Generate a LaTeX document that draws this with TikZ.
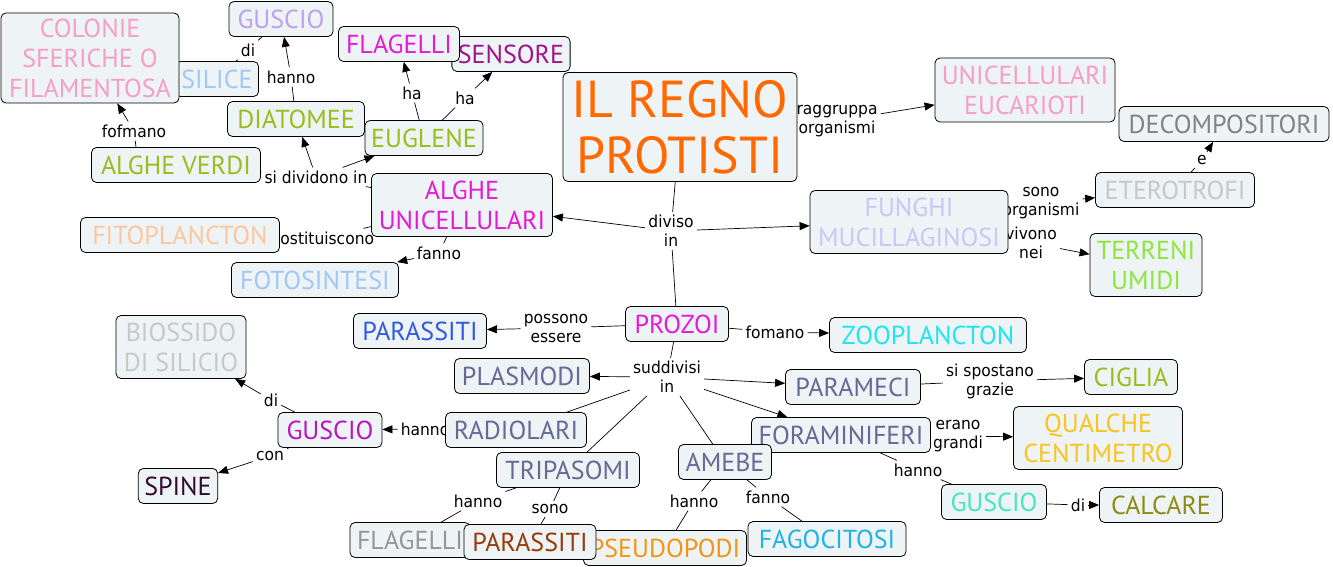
\documentclass[tikz,border=0pt]{standalone}
\usepackage{fontspec}
\setmainfont{PT Sans}
\newfontfamily\linkfont[FakeStretch=0.94]{DejaVu Sans}
\usetikzlibrary{arrows.meta}
\pgfdeclarelayer{back}
\pgfsetlayers{back,main}

\definecolor{boxfill}{RGB}{238,243,245}
\definecolor{rosa}{RGB}{245,160,195}
\definecolor{azzurro}{RGB}{160,200,245}
\definecolor{lilla}{RGB}{190,160,240}
\definecolor{magenta}{RGB}{230,25,215}
\definecolor{viola}{RGB}{160,20,140}
\definecolor{verde}{RGB}{150,190,30}
\definecolor{arancio}{RGB}{255,105,0}
\definecolor{grigio}{RGB}{130,130,130}
\definecolor{grigiochiaro}{RGB}{200,200,200}
\definecolor{glicine}{RGB}{200,200,245}
\definecolor{verdechiaro}{RGB}{140,230,60}
\definecolor{pesca}{RGB}{250,200,160}
\definecolor{blu}{RGB}{50,90,220}
\definecolor{ciano}{RGB}{30,230,240}
\definecolor{ardesia}{RGB}{100,105,150}
\definecolor{porpora}{RGB}{190,20,190}
\definecolor{oro}{RGB}{250,195,30}
\definecolor{prugna}{RGB}{50,10,50}
\definecolor{acqua}{RGB}{70,230,190}
\definecolor{oliva}{RGB}{140,140,20}
\definecolor{grigiomedio}{RGB}{150,150,150}
\definecolor{marrone}{RGB}{150,60,10}
\definecolor{arancione}{RGB}{240,150,20}
\definecolor{cielo}{RGB}{30,180,230}

\tikzset{
  concept/.style 2 args={draw=black, line width=0.8pt, fill=boxfill,
    rounded corners=5pt, align=center, inner xsep=6pt, inner ysep=2pt,
    minimum height=35pt, minimum width=#2pt, text=#1,
    font=\fontsize{26}{30}\selectfont},
  link/.style={align=center, inner sep=3pt,
    font=\linkfont\fontsize{16.5}{19}\selectfont},
  conn/.style={line width=0.7pt, black},
  arr/.style={conn, -{Triangle[length=10pt,width=8pt]}},
}

\begin{document}
\begin{tikzpicture}[x=1pt,y=-1pt]
  \useasboundingbox (0,0) rectangle (1333,567);
  % linking phrases
  \node[link] (hannoA) at (291,77) {hanno};
  \node[link] (diA) at (248,50) {di};
  \node[link] (haA) at (412,93) {ha};
  \node[link] (haB) at (465,98) {ha};
  \node[link] (fofm) at (134,131) {fofmano};
  \node[link] (sidiv) at (316,177) {si dividono in};
  \node[link] (ragg) at (837,121) {raggruppa\\organismi};
  \node[link] (divi) at (671,231) {diviso\\in};
  \node[link] (sonoorg) at (1041,203) {sono\\organismi};
  \node[link] (eA) at (1202,160) {e};
  \node[link] (vivono) at (1031,243) {vivono\\nei};
  \node[link] (costit) at (323,238) {costituiscono};
  \node[link] (fannoA) at (439,253) {fanno};
  \node[link] (possono) at (556,328) {possono\\essere};
  \node[link] (fomano) at (775,332) {fomano};
  \node[link] (suddiv) at (667,377) {suddivisi\\in};
  \node[link] (sisp) at (990,381) {si spostano\\grazie};
  \node[link] (hannoB) at (425,429) {hanno};
  \node[link] (diB) at (271,400) {di};
  \node[link] (con) at (270,456) {con};
  \node[link] (erano) at (958,436) {erano\\grandi};
  \node[link] (hannoC) at (918,470) {hanno};
  \node[link] (diC) at (1078,505) {di};
  \node[link] (hannoD) at (478,501) {hanno};
  \node[link] (sono) at (550,509) {sono};
  \node[link] (hannoE) at (694,501) {hanno};
  \node[link] (fannoB) at (768,497) {fanno};
  % concepts
  \node[concept={azzurro}{78}] (silice) at (217,79) {SILICE};
  \node[concept={rosa}{178}, minimum height=90pt] (colonie) at (90,58) {COLONIE\\SFERICHE O\\FILAMENTOSA};
  \node[concept={lilla}{104}] (guscioA) at (281,19) {GUSCIO};
  \node[concept={viola}{118}] (sens) at (511,54) {SENSORE};
  \node[concept={magenta}{121}] (flagA) at (399,44) {FLAGELLI};
  \node[concept={verde}{137}] (diat) at (296,119) {DIATOMEE};
  \node[concept={verde}{118}] (eugl) at (424,138) {EUGLENE};
  \node[concept={verde}{169}] (alv) at (176,165) {ALGHE VERDI};
  \node[concept={arancio}{234}, minimum height=109pt,
    font=\fontsize{52}{56}\selectfont] (regno) at (680,127) {IL REGNO\\PROTISTI};
  \node[concept={rosa}{180}, minimum height=64pt] (unic) at (1025,90) {UNICELLULARI\\EUCARIOTI};
  \node[concept={grigio}{210}] (decomp) at (1224,124) {DECOMPOSITORI};
  \node[concept={grigiochiaro}{159}] (etero) at (1175,190) {ETEROTROFI};
  \node[concept={glicine}{198}, minimum height=63pt] (fungh) at (909,222) {FUNGHI\\MUCILLAGINOSI};
  \node[concept={verdechiaro}{112}, minimum height=63pt] (terreni) at (1146,265) {TERRENI\\UMIDI};
  \node[concept={magenta}{181}, minimum height=63pt] (algu) at (462,205) {ALGHE\\UNICELLULARI};
  \node[concept={pesca}{199}] (fito) at (180,235) {FITOPLANCTON};
  \node[concept={azzurro}{167}] (foto) at (315,280) {FOTOSINTESI};
  \node[concept={magenta}{103}] (prozoi) at (677,324) {PROZOI};
  \node[concept={blu}{133}] (parA) at (420,331) {PARASSITI};
  \node[concept={ciano}{197}] (zoo) at (928,335) {ZOOPLANCTON};
  \node[concept={ardesia}{135}] (plasm) at (522,376) {PLASMODI};
  \node[concept={ardesia}{135}] (param) at (853,387) {PARAMECI};
  \node[concept={verde}{93}] (ciglia) at (1131,377) {CIGLIA};
  \node[concept={grigiochiaro}{130}, minimum height=63pt] (biossido) at (181,347) {BIOSSIDO\\DI SILICIO};
  \node[concept={porpora}{104}] (guscioB) at (330,430) {GUSCIO};
  \node[concept={ardesia}{141}] (radio) at (516,430) {RADIOLARI};
  \node[concept={ardesia}{179}] (foram) at (841,435) {FORAMINIFERI};
  \node[concept={oro}{169}, minimum height=63pt] (qualche) at (1098,438) {QUALCHE\\CENTIMETRO};
  \node[concept={prugna}{79}] (spine) at (178,486) {SPINE};
  \node[concept={ardesia}{143}] (tripa) at (568,470) {TRIPASOMI};
  \node[concept={ardesia}{93}] (amebe) at (725,462) {AMEBE};
  \node[concept={acqua}{105}] (guscioC) at (994,502) {GUSCIO};
  \node[concept={oliva}{123}] (calcare) at (1161,505) {CALCARE};
  \node[concept={grigiomedio}{120}] (flagB) at (410,540) {FLAGELLI};
  \node[concept={arancione}{163}] (pseudo) at (665,548) {PSEUDOPODI};
  \node[concept={marrone}{132}] (parB) at (530,542) {PARASSITI};
  \node[concept={cielo}{158}] (fago) at (827,539) {FAGOCITOSI};
  % connectors
  \begin{pgfonlayer}{back}
    \fill[white] (0,0) rectangle (1333,567);
    \draw[conn] (diat) -- (hannoA);
    \draw[arr] (hannoA) -- (guscioA);
    \draw[conn] (guscioA) -- (diA);
    \draw[conn] (diA) -- (silice);
    \draw[conn] (eugl) -- (haA);
    \draw[arr] (haA) -- (flagA);
    \draw[conn] (eugl) -- (haB);
    \draw[arr] (haB) -- (sens);
    \draw[conn] ([xshift=-40pt]alv.north) -- (fofm);
    \draw[arr] (fofm) -- (colonie);
    \draw[conn] (algu) -- (sidiv);
    \draw[conn] (sidiv) -- (alv);
    \draw[arr] (sidiv) -- (diat);
    \draw[arr] (sidiv) -- (eugl);
    \draw[conn] (regno) -- (ragg);
    \draw[arr] (ragg) -- (unic);
    \draw[conn] (regno) -- (divi);
    \draw[arr] (divi) -- (algu);
    \draw[arr] (divi) -- (fungh);
    \draw[conn] (divi) -- (prozoi);
    \draw[conn] (fungh) -- (sonoorg);
    \draw[arr] (sonoorg) -- (etero);
    \draw[conn] (etero) -- (eA);
    \draw[arr] (eA) -- (decomp);
    \draw[conn] (fungh) -- (vivono);
    \draw[arr] (vivono) -- (terreni);
    \draw[conn] (algu) -- (costit);
    \draw[conn] (costit) -- (fito);
    \draw[conn] (algu) -- (fannoA);
    \draw[arr] (fannoA) -- (foto);
    \draw[conn] (prozoi) -- (possono);
    \draw[arr] (possono) -- (parA);
    \draw[conn] (prozoi) -- (fomano);
    \draw[arr] (fomano) -- (zoo);
    \draw[conn] (prozoi) -- (suddiv);
    \foreach \t in {plasm,param,foram} \draw[arr] (suddiv) -- (\t);
    \foreach \t in {radio,tripa,amebe} \draw[conn] (suddiv) -- (\t);
    \draw[conn] (param) -- (sisp);
    \draw[arr] (sisp) -- (ciglia);
    \draw[conn] (radio) -- (hannoB);
    \draw[arr] (hannoB) -- (guscioB);
    \draw[conn] (guscioB) -- (diB);
    \draw[arr] (diB) -- (biossido);
    \draw[conn] (guscioB) -- (con);
    \draw[arr] (con) -- (spine);
    \draw[conn] (foram) -- (erano);
    \draw[arr] (erano) -- (qualche);
    \draw[conn] (foram) -- (hannoC);
    \draw[conn] (hannoC) -- (guscioC);
    \draw[conn] (guscioC) -- (diC);
    \draw[arr] (diC) -- (calcare);
    \draw[conn] (tripa) -- (hannoD);
    \draw[conn] (hannoD) -- (flagB);
    \draw[conn] (tripa) -- (sono);
    \draw[conn] (sono) -- (parB);
    \draw[conn] (amebe) -- (hannoE);
    \draw[conn] (hannoE) -- (pseudo);
    \draw[conn] (amebe) -- (fannoB);
    \draw[conn] (fannoB) -- (fago);
  \end{pgfonlayer}
\end{tikzpicture}
\end{document}
